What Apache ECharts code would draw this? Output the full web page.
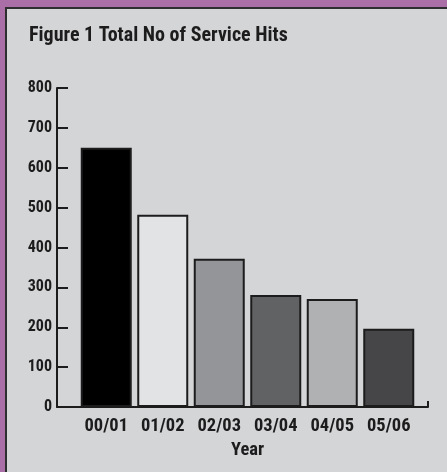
<!DOCTYPE html>
<html>
<head>
<meta charset="utf-8">
<script src="https://cdn.jsdelivr.net/npm/echarts@6/dist/echarts.min.js"></script>
<style>
  html, body { margin: 0; padding: 0; background: #a96fa6; width: 447px; height: 472px; overflow: hidden; }
  #frame { position: absolute; left: 5px; top: 7px; width: 442px; height: 465px; box-sizing: border-box;
           border-left: 2px solid #2e2e2e; border-top: 2px solid #2e2e2e; background: #d4d5d7; }
  #c { position: absolute; left: 0; top: 0; width: 447px; height: 472px; }
</style>
</head>
<body>
<div id="frame"></div>
<div id="c"></div>
<script>
var categories = ['00/01', '01/02', '02/03', '03/04', '04/05', '05/06'];
var hits = [650, 482, 372, 281, 271, 196];
var yTicks = [0, 100, 200, 300, 400, 500, 600, 700, 800];
var barColors = ['#000000', '#e2e3e5', '#939598', '#616264', '#b0b1b3', '#464648'];

var FONT = '"Roboto Condensed", "Open Sans Condensed", sans-serif';
var INK = '#1c1c1c';
var chart = echarts.init(document.getElementById('c'), null, { renderer: 'canvas' });
chart.setOption({
  backgroundColor: 'transparent',
  animation: false,
  title: {
    text: 'Figure 1 Total No of Service Hits',
    left: 29, top: 26, padding: 0,
    textStyle: { fontFamily: FONT, fontWeight: 'bold', fontSize: 20, color: INK }
  },
  grid: [
    { left: 78, right: 30, top: 88, bottom: 65 },
    { left: 57, right: 19, top: 88, bottom: 65 }
  ],
  xAxis: [
    {
      type: 'category', gridIndex: 0, data: categories,
      axisLine: { show: false }, axisTick: { show: false },
      axisLabel: { interval: 0, margin: 10, fontFamily: FONT, fontWeight: 'bold', fontSize: 18.5, color: INK },
      name: 'Year', nameLocation: 'middle', nameGap: 31,
      nameTextStyle: { fontFamily: FONT, fontWeight: 'bold', fontSize: 18.5, color: INK }
    },
    {
      type: 'value', gridIndex: 1, min: 0, max: 1, interval: 1,
      axisLine: { show: true, lineStyle: { color: INK, width: 2 } },
      axisTick: { show: true, inside: true, length: 6, lineStyle: { color: INK, width: 2 } },
      axisLabel: { show: false }, splitLine: { show: false }
    }
  ],
  yAxis: [
    {
      type: 'value', gridIndex: 0, min: yTicks[0], max: yTicks[yTicks.length - 1], interval: 100,
      show: false, splitLine: { show: false }
    },
    {
      type: 'value', gridIndex: 1, min: yTicks[0], max: yTicks[yTicks.length - 1], interval: 100,
      axisLine: { show: true, lineStyle: { color: INK, width: 2 } },
      axisTick: { show: true, inside: true, length: 11, lineStyle: { color: INK, width: 2 } },
      axisLabel: { margin: 5, fontFamily: FONT, fontWeight: 'bold', fontSize: 16, color: INK },
      splitLine: { show: false }
    }
  ],
  series: [{
    type: 'bar', xAxisIndex: 0, yAxisIndex: 0,
    barWidth: 51,
    data: hits.map(function (v, i) {
      return { value: v, itemStyle: { color: barColors[i] } };
    }),
    itemStyle: { borderColor: INK, borderWidth: 2 }
  }]
});
</script>
</body>
</html>
